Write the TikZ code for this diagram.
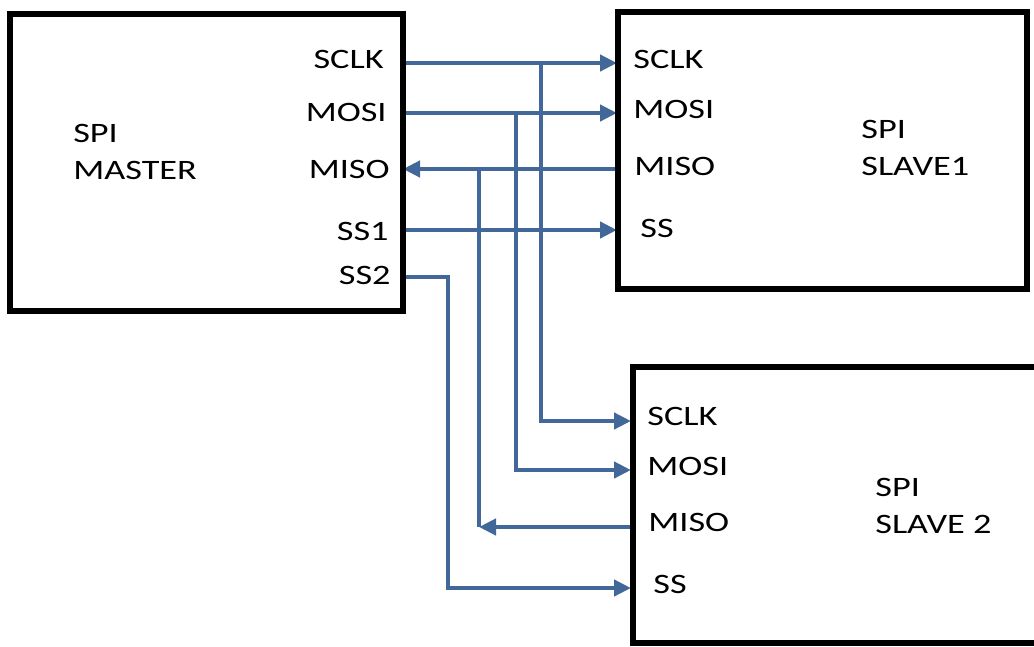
\documentclass[tikz,border=0pt]{standalone}
\usepackage{fontspec}
\setmainfont{Carlito}[FakeStretch=1.29]
\usetikzlibrary{arrows.meta}
\definecolor{wireblue}{RGB}{66,104,153}
\tikzset{
  box/.style={line width=3.1pt, draw=black},
  wire/.style={line width=2.5pt, draw=wireblue},
  arr/.style={wire, -{Triangle[length=3.4mm,width=3.2mm]}},
  pin/.style={inner sep=0pt, font=\fontsize{16}{21}\selectfont},
}
\begin{document}
\begin{tikzpicture}[x=0.02cm, y=-0.02cm]
  \clip (0,0) rectangle (1034,646);

  % Pins on the master
  \coordinate (m-sclk) at (403,63);
  \coordinate (m-mosi) at (403,113);
  \coordinate (m-miso) at (403,169);
  \coordinate (m-ss1)  at (403,230);
  \coordinate (m-ss2)  at (403,277);

  % Pins on slave 1
  \coordinate (s1-sclk) at (617,63);
  \coordinate (s1-mosi) at (617,113);
  \coordinate (s1-miso) at (618,169);
  \coordinate (s1-ss)   at (617,230);

  % Pins on slave 2
  \coordinate (s2-sclk) at (631,421);
  \coordinate (s2-mosi) at (631,470);
  \coordinate (s2-miso) at (633,527);
  \coordinate (s2-ss)   at (631,588);

  % Bus taps
  \coordinate (j-sclk) at (541,63);
  \coordinate (j-mosi) at (516,113);
  \coordinate (j-miso) at (479,169);
  \coordinate (k-miso) at (479,527);
  \coordinate (b-ss2)  at (448,588);

  % Wires
  \draw[arr] (m-sclk) -- (s1-sclk);
  \draw[arr] (m-mosi) -- (s1-mosi);
  \draw[arr] (s1-miso) -- (m-miso);
  \draw[arr] (m-ss1) -- (s1-ss);
  \draw[arr] (j-sclk) |- (s2-sclk);
  \draw[arr] (j-mosi) |- (s2-mosi);
  \draw[wire] (j-miso) -- (k-miso);
  \draw[arr] (s2-miso) -- (k-miso);
  \draw[arr] (m-ss2) -| (b-ss2) -- (s2-ss);

  % Blocks
  \draw[box] (10,14) rectangle (403,311);
  \draw[box] (618,12) rectangle (1027,289);
  \draw[box] (633,367) rectangle (1060,643);

  % Master text
  \node[pin, anchor=base west, align=left] (mastername) at (73,179) {SPI\\MASTER};
  \node[pin, anchor=base east] (ml-sclk) at (384,68) {SCLK};
  \node[pin, anchor=base east] (ml-mosi) at (387,121) {MOSI};
  \node[pin, anchor=base east] (ml-miso) at (390,178) {MISO};
  \node[pin, anchor=base east] (ml-ss1)  at (389,240) {SS1};
  \node[pin, anchor=base east] (ml-ss2)  at (391,284) {SS2};

  % Slave 1 text
  \node[pin, anchor=base west, align=left] (slave1name) at (861,175) {SPI\\SLAVE1};
  \node[pin, anchor=base west] (s1l-sclk) at (633,68) {SCLK};
  \node[pin, anchor=base west] (s1l-mosi) at (633,118) {MOSI};
  \node[pin, anchor=base west] (s1l-miso) at (634,175) {MISO};
  \node[pin, anchor=base west] (s1l-ss)   at (640,237) {SS};

  % Slave 2 text
  \node[pin, anchor=base west, align=left] (slave2name) at (875,533) {SPI\\SLAVE 2};
  \node[pin, anchor=base west] (s2l-sclk) at (647,425) {SCLK};
  \node[pin, anchor=base west] (s2l-mosi) at (647,475) {MOSI};
  \node[pin, anchor=base west] (s2l-miso) at (648,531) {MISO};
  \node[pin, anchor=base west] (s2l-ss)   at (653,593) {SS};
\end{tikzpicture}
\end{document}
